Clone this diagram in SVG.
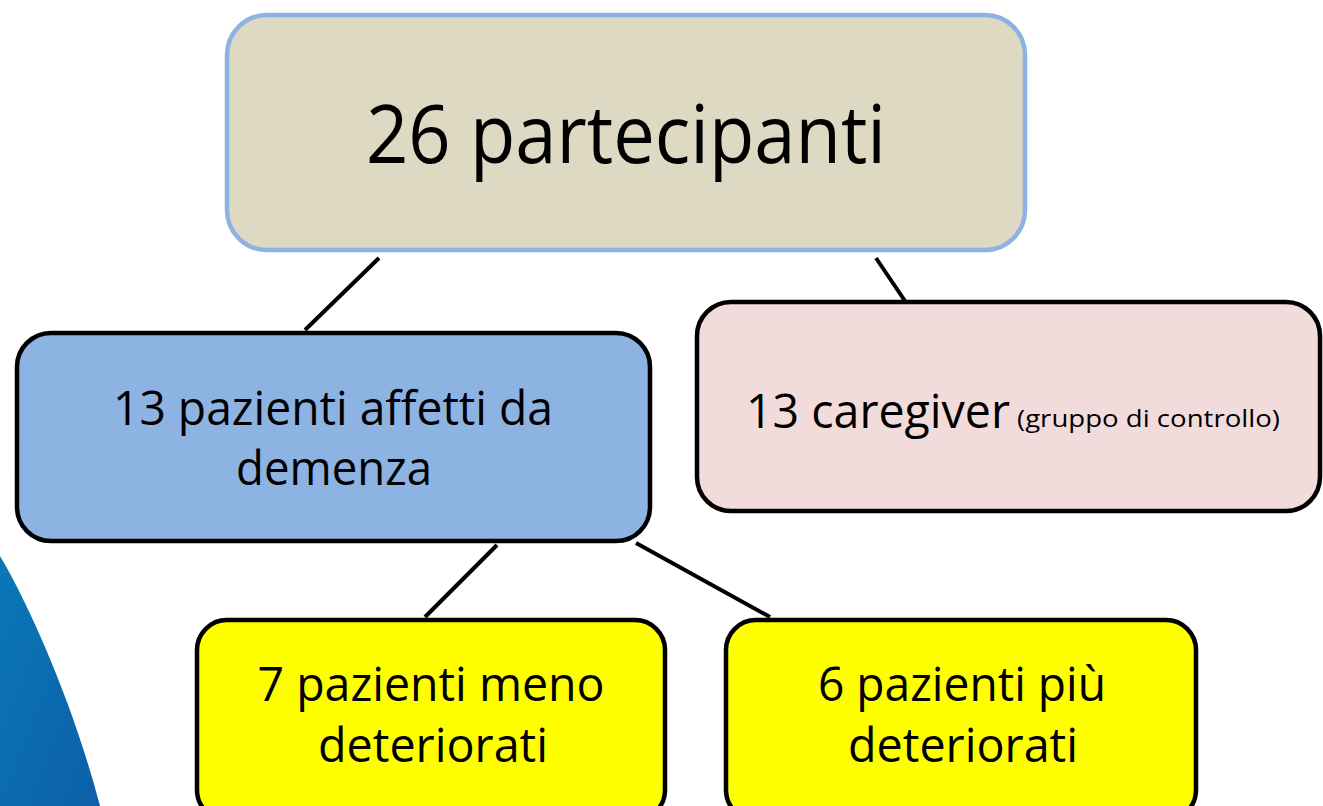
<svg xmlns="http://www.w3.org/2000/svg" width="1323" height="806" viewBox="0 0 1323 806">
<defs>
<linearGradient id="sw" x1="0" y1="0" x2="1" y2="1">
<stop offset="0" stop-color="#0a78b8"/>
<stop offset="1" stop-color="#0d5fa8"/>
</linearGradient>
</defs>
<style>
.box{stroke:#000;stroke-width:4.5}
.t{font-family:"Open Sans","Noto Sans","Liberation Sans",sans-serif;fill:#000;text-anchor:middle}
.c{stroke:#000;stroke-width:4;fill:none}
</style>
<rect width="1323" height="806" fill="#fff"/>
<path d="M0,556 C32,610 75,710 100,806 L0,806 Z" fill="url(#sw)"/>
<g id="connectors">
<line class="c" x1="379" y1="258" x2="305" y2="330"/>
<line class="c" x1="876" y1="258" x2="905" y2="301"/>
<line class="c" x1="497" y1="545" x2="425" y2="617"/>
<line class="c" x1="636" y1="543" x2="770" y2="617"/>
</g>
<g id="root">
<rect x="227" y="15" width="798" height="235" rx="40" fill="#ddd9c3" stroke="#8db3e2" stroke-width="4.5"/>
<text class="t" x="626" y="163" font-size="81" textLength="520" lengthAdjust="spacingAndGlyphs">26 partecipanti</text>
</g>
<g id="pazienti">
<rect class="box" x="17" y="333" width="633" height="208" rx="34" fill="#8db3e2"/>
<text class="t" x="333" y="425" font-size="47" textLength="440" lengthAdjust="spacingAndGlyphs">13 pazienti affetti da</text>
<text class="t" x="334" y="485" font-size="47" textLength="196" lengthAdjust="spacingAndGlyphs">demenza</text>
</g>
<g id="caregiver">
<rect class="box" x="697" y="302" width="623" height="209" rx="34" fill="#f2dcdb"/>
<text x="746" y="428" font-family="Open Sans,Noto Sans,Liberation Sans,sans-serif" font-size="47" textLength="264" lengthAdjust="spacingAndGlyphs">13 caregiver</text>
<text x="1017" y="427" font-family="Open Sans,Noto Sans,Liberation Sans,sans-serif" font-size="24" textLength="263" lengthAdjust="spacingAndGlyphs">(gruppo di controllo)</text>
</g>
<g id="meno">
<rect class="box" x="197" y="620" width="468" height="200" rx="30" fill="#ffff00"/>
<text class="t" x="431" y="701" font-size="47" textLength="347" lengthAdjust="spacingAndGlyphs">7 pazienti meno</text>
<text class="t" x="433" y="762" font-size="47" textLength="230" lengthAdjust="spacingAndGlyphs">deteriorati</text>
</g>
<g id="piu">
<rect class="box" x="726" y="620" width="470" height="200" rx="30" fill="#ffff00"/>
<text class="t" x="962" y="701" font-size="47" textLength="288" lengthAdjust="spacingAndGlyphs">6 pazienti più</text>
<text class="t" x="963" y="762" font-size="47" textLength="230" lengthAdjust="spacingAndGlyphs">deteriorati</text>
</g>
</svg>
